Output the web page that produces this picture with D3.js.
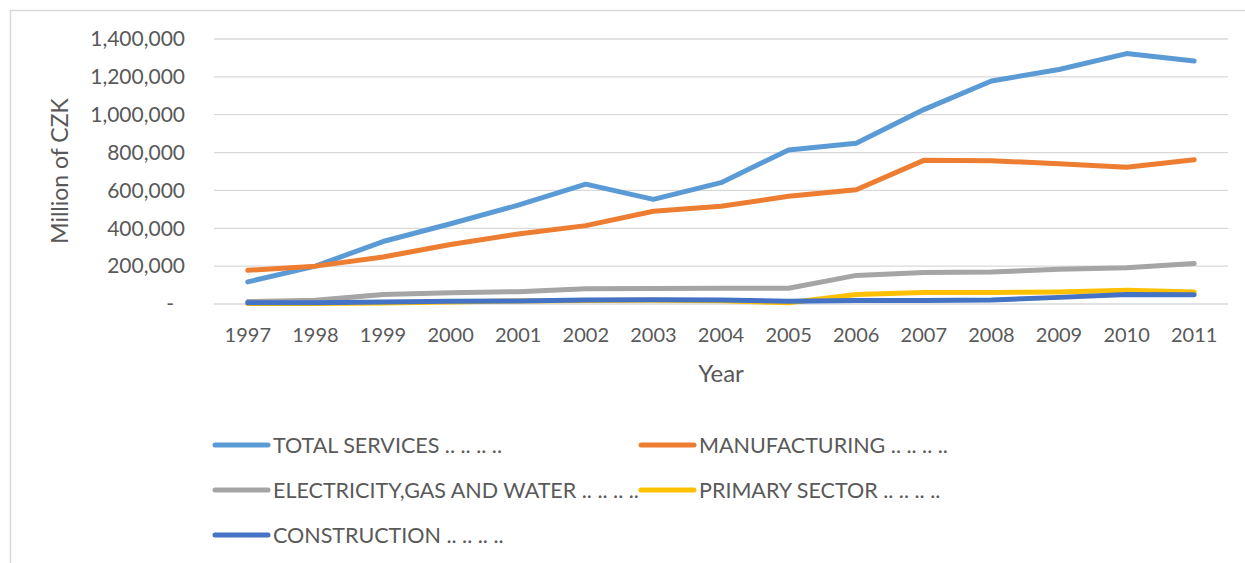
<!DOCTYPE html>
<html>
<head>
<meta charset="utf-8">
<script src="https://cdn.jsdelivr.net/npm/d3@7/dist/d3.min.js"></script>
<style>
  html, body { margin: 0; padding: 0; background: #fff; }
  svg { display: block; }
  text { font-family: Lato, "Open Sans", sans-serif; fill: #595959; }
</style>
</head>
<body>
<svg id="chart" width="1245" height="563"></svg>
<script>
// Gross value added by sector, Czech Republic (million CZK)
const years = ["1997","1998","1999","2000","2001","2002","2003","2004","2005","2006","2007","2008","2009","2010","2011"];
const totalServices = [117000, 200000, 330000, 424000, 522000, 633000, 553000, 641000, 814000, 849000, 1027000, 1178000, 1239000, 1323000, 1284000];
const manufacturing = [178000, 200000, 248000, 314000, 370000, 414000, 490000, 516000, 569000, 604000, 759000, 757000, 741000, 723000, 762000];
const electricity   = [13000, 20000, 50000, 60000, 65000, 80000, 82000, 83000, 83000, 151000, 167000, 169000, 183000, 191000, 214000];
const primarySector = [2000, 3000, 5000, 10000, 16000, 19000, 20000, 17000, 7000, 50000, 61000, 61000, 64000, 73000, 64000];
const construction  = [7000, 7000, 10000, 14000, 16000, 21000, 23000, 21000, 14000, 19000, 19000, 21000, 35000, 50000, 49000];
const yTicks = [0, 200000, 400000, 600000, 800000, 1000000, 1200000, 1400000];

const seriesNames  = ["TOTAL SERVICES", "MANUFACTURING", "ELECTRICITY,GAS AND WATER", "PRIMARY SECTOR", "CONSTRUCTION"];
const seriesValues = [totalServices, manufacturing, electricity, primarySector, construction];
const seriesColors = ["#5B9BD5", "#ED7D31", "#A5A5A5", "#FFC000", "#4472C4"];

const svg = d3.select("#chart");

// chart frame
svg.append("rect")
  .attr("x", 10.5).attr("y", 10.5)
  .attr("width", 1260).attr("height", 600)
  .attr("fill", "none").attr("stroke", "#D9D9D9").attr("stroke-width", 1.5);

const x = d3.scalePoint().domain(years).range([214, 1228]).padding(0.5);
const y = d3.scaleLinear().domain([0, 1400000]).range([304, 39]);

// horizontal gridlines
svg.append("g")
  .selectAll("line")
  .data(yTicks)
  .join("line")
  .attr("x1", 214).attr("x2", 1228)
  .attr("y1", d => y(d)).attr("y2", d => y(d))
  .attr("stroke", "#D9D9D9").attr("stroke-width", 1.3);

// y axis labels
const fmt = d3.format(",");
svg.append("g")
  .selectAll("text")
  .data(yTicks)
  .join("text")
  .attr("x", d => d === 0 ? 174 : 185)
  .attr("y", d => y(d))
  .attr("dy", "0.35em")
  .attr("text-anchor", "end")
  .style("font-size", "21px")
  .text(d => d === 0 ? "-" : fmt(d));

// x axis labels
svg.append("g")
  .selectAll("text")
  .data(years)
  .join("text")
  .attr("x", d => x(d))
  .attr("y", 335)
  .attr("dy", "0.35em")
  .attr("text-anchor", "middle")
  .style("font-size", "20px")
  .text(d => d);

// axis titles
svg.append("text")
  .attr("transform", "translate(60,171) rotate(-90)")
  .attr("dy", "0.35em")
  .attr("text-anchor", "middle")
  .style("font-size", "23px")
  .text("Million of CZK");

svg.append("text")
  .attr("x", 721).attr("y", 374)
  .attr("dy", "0.35em")
  .attr("text-anchor", "middle")
  .style("font-size", "24px")
  .text("Year");

// series lines
const line = d3.line()
  .x((d, i) => x(years[i]))
  .y(d => y(d));

svg.append("g")
  .selectAll("path")
  .data(seriesValues)
  .join("path")
  .attr("d", d => line(d))
  .attr("fill", "none")
  .attr("stroke", (d, i) => seriesColors[i])
  .attr("stroke-width", 5)
  .attr("stroke-linecap", "round")
  .attr("stroke-linejoin", "round");

// legend
const legendPos = [[214, 445], [640, 445], [214, 490], [640, 490], [214, 535]];
const legend = svg.append("g")
  .selectAll("g")
  .data(seriesNames)
  .join("g")
  .attr("transform", (d, i) => `translate(${legendPos[i][0]},${legendPos[i][1]})`);

legend.append("line")
  .attr("x1", 1).attr("x2", 54)
  .attr("stroke", (d, i) => seriesColors[i])
  .attr("stroke-width", 5)
  .attr("stroke-linecap", "round");

legend.append("text")
  .attr("x", 59)
  .attr("dy", "0.35em")
  .style("font-size", "21.5px")
  .text(d => d + " .. .. .. ..");
</script>
</body>
</html>
